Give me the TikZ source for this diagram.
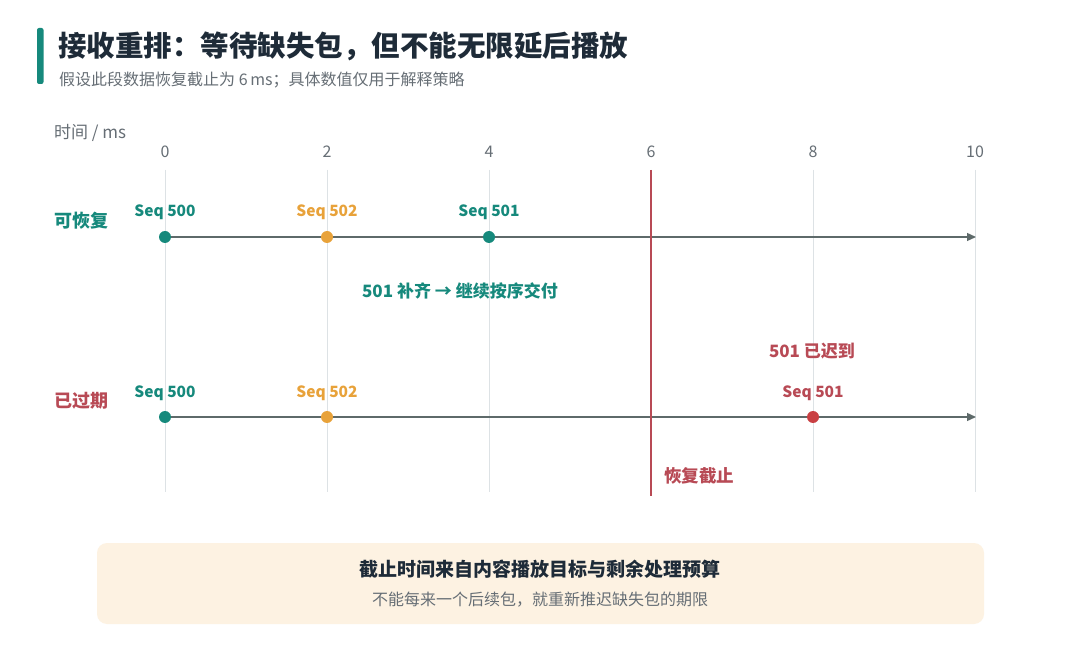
\documentclass[tikz,border=0pt]{standalone}
\usepackage{fontspec}
\setmainfont{Noto Sans CJK SC}
\usetikzlibrary{arrows.meta}
\definecolor{teal1}{HTML}{16897C}
\definecolor{orange1}{HTML}{E8A23A}
\definecolor{red1}{HTML}{B84A55}
\definecolor{dot red}{HTML}{C94043}
\definecolor{axisg}{HTML}{5E6A6A}
\definecolor{gridg}{HTML}{DDE2E5}
\definecolor{darkt}{HTML}{1E2B38}
\definecolor{greyt}{HTML}{666E75}
\definecolor{cream}{HTML}{FDF2E2}
\tikzset{
  lbl/.style={font=\fontsize{15.5}{17}\selectfont\bfseries, inner sep=0pt},
  tick/.style={font=\fontsize{16}{18}\selectfont, text=greyt, inner sep=0pt},
  grid line/.style={draw=gridg, line width=0.8pt},
  axis/.style={draw=axisg, line width=1.3pt, -{Triangle[length=9pt,width=8pt]}},
  pdot/.style={circle, fill=#1, minimum size=12pt, inner sep=0pt},
  rowlbl/.style={font=\fontsize{17.5}{19}\selectfont\bfseries, inner sep=0pt},
}
\begin{document}
\begin{tikzpicture}[x=1pt,y=-1pt]
\useasboundingbox (0,0) rectangle (1080,660);
\fill[white] (0,0) rectangle (1080,660);
% title
\fill[teal1, rounded corners=2pt] (37,28) rectangle (43.5,84);
\node[anchor=west, inner sep=0pt, text=darkt, font=\fontsize{28.5}{32}\selectfont\bfseries] (title) at (58,46) {接收重排：等待缺失包，但不能无限延后播放};
\node[anchor=west, inner sep=0pt, text=greyt, font=\fontsize{16}{18}\selectfont] (sub) at (59,80) {假设此段数据恢复截止为 6\,ms；具体数值仅用于解释策略};
\node[anchor=west, inner sep=0pt, text=greyt, font=\fontsize{17}{19}\selectfont] (unit) at (54,133) {时间 / ms};
% ticks and grid
\foreach \v/\x in {0/165,2/327,4/489,8/813,10/975}{
  \node[tick] (t\v) at (\x,152) {\v};
  \draw[grid line] (\x,170) -- (\x,492);
}
\node[tick] (t6) at (651,152) {6};
% axes
\coordinate (a1s) at (165,237); \coordinate (a1e) at (976,237);
\coordinate (a2s) at (165,417); \coordinate (a2e) at (976,417);
\draw[axis] (a1s) -- (a1e);
\draw[axis] (a2s) -- (a2e);
% deadline
\coordinate (dtop) at (651,170); \coordinate (dbot) at (651,496);
\draw[red1, line width=2.4pt] (dtop) -- (dbot);
\node[anchor=west, rowlbl, text=red1] (dl) at (664,476) {恢复截止};
% row 1
\node[rowlbl, text=teal1, font=\fontsize{18}{20}\selectfont\bfseries] (r1) at (81,221) {可恢复};
\node[pdot=teal1] (p1a) at (165,237) {};
\node[pdot=orange1] (p1b) at (327,237) {};
\node[pdot=teal1] (p1c) at (489,237) {};
\node[lbl, text=teal1] at (165,212) {Seq 500};
\node[lbl, text=orange1] at (327,212) {Seq 502};
\node[lbl, text=teal1] at (489,212) {Seq 501};
\node[rowlbl, text=teal1, font=\fontsize{17}{19}\selectfont\bfseries] (note1) at (460,291) {501 补齐 → 继续按序交付};
% row 2
\node[rowlbl, text=red1, font=\fontsize{18}{20}\selectfont\bfseries] (r2) at (81,401) {已过期};
\node[pdot=teal1] (p2a) at (165,417) {};
\node[pdot=orange1] (p2b) at (327,417) {};
\node[pdot=dot red] (p2c) at (813,417) {};
\node[lbl, text=teal1] at (165,393) {Seq 500};
\node[lbl, text=orange1] at (327,393) {Seq 502};
\node[lbl, text=red1] at (813,393) {Seq 501};
\node[rowlbl, text=red1, font=\fontsize{17}{19}\selectfont\bfseries] (note2) at (812,351) {501 已迟到};
% bottom box
\node[fill=cream, rounded corners=10pt, minimum width=887pt, minimum height=81pt, inner sep=0pt] (box) at (540.5,583.5) {};
\node[inner sep=0pt, text=darkt, font=\fontsize{19}{21}\selectfont\bfseries] (bt) at (540,569) {截止时间来自内容播放目标与剩余处理预算};
\node[inner sep=0pt, text=greyt, font=\fontsize{16}{18}\selectfont] (bs) at (540,600) {不能每来一个后续包，就重新推迟缺失包的期限};
\end{tikzpicture}
\end{document}
